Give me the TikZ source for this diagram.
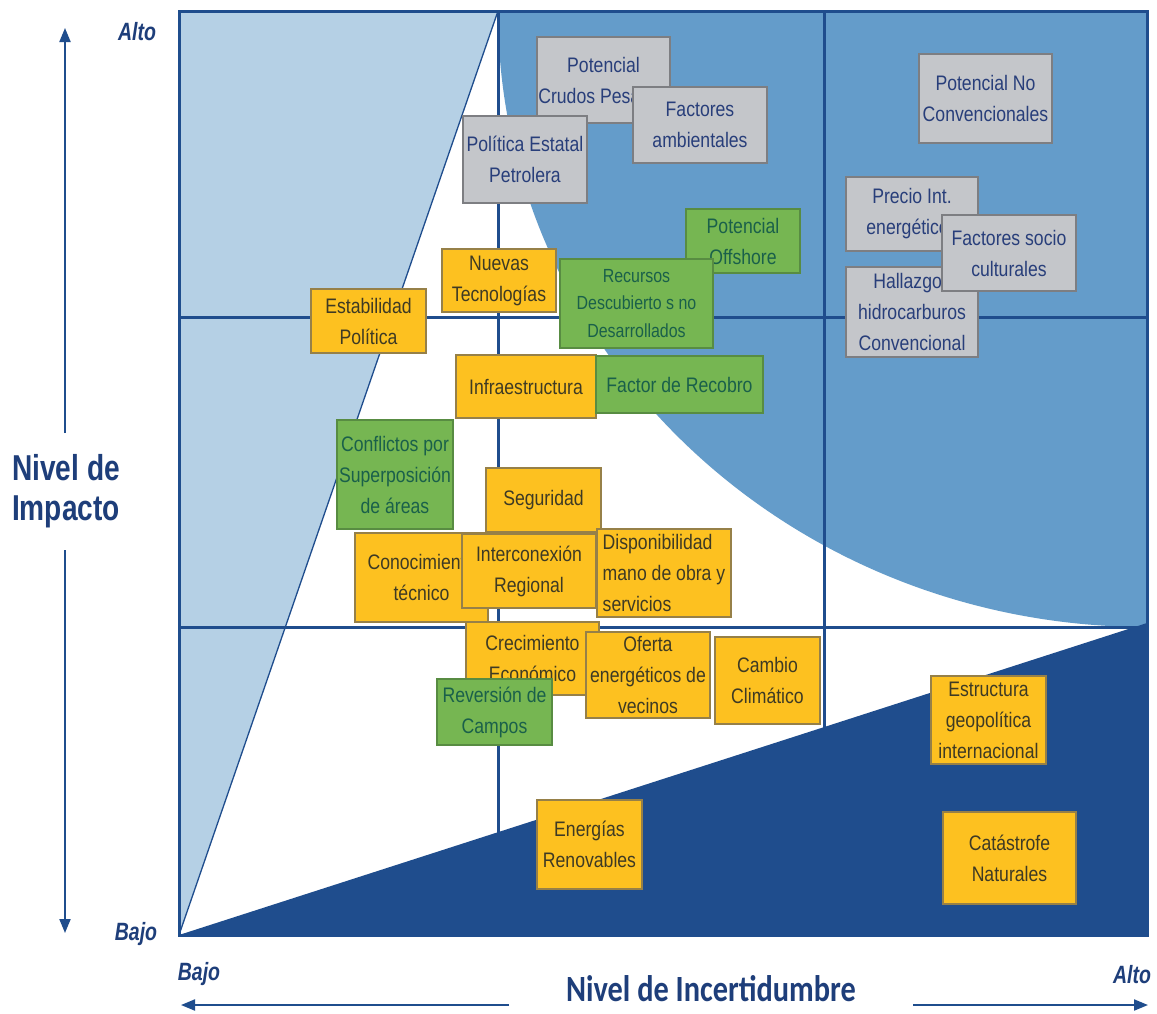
\documentclass[tikz,border=0pt]{standalone}
\usepackage{fontspec}
\setmainfont{Liberation Sans}
\newfontfamily\boxfont[FakeStretch=0.84]{Liberation Sans}
\newfontfamily\axisfont[FakeStretch=0.82]{Carlito}
\newfontfamily\labfont[FakeStretch=0.78]{Liberation Sans}
\usetikzlibrary{arrows.meta}

\definecolor{navy}{RGB}{31,77,141}
\definecolor{lightblue}{RGB}{181,208,229}
\definecolor{midblue}{RGB}{100,156,202}
\definecolor{axistext}{RGB}{30,62,122}
\definecolor{grayfill}{RGB}{196,198,202}
\definecolor{grayedge}{RGB}{125,126,130}
\definecolor{graytext}{RGB}{40,62,122}
\definecolor{greenfill}{RGB}{118,182,82}
\definecolor{greenedge}{RGB}{88,140,66}
\definecolor{greentext}{RGB}{26,96,74}
\definecolor{yellowfill}{RGB}{253,193,32}
\definecolor{yellowedge}{RGB}{150,128,72}
\definecolor{yellowtext}{RGB}{62,58,36}

% a factor box given by its corners (x1,y1) and (x2,y2)
\newcommand{\riskbox}[7]{%
  \pgfmathsetmacro{\rbW}{#5-#3}\pgfmathsetmacro{\rbH}{#6-#4}%
  \pgfmathsetmacro{\rbX}{(#3+#5)/2}\pgfmathsetmacro{\rbY}{(#4+#6)/2}%
  \node[#1, minimum width=\rbW pt, minimum height=\rbH pt] (#2) at (\rbX,\rbY) {#7};}

\begin{document}
\begin{tikzpicture}[x=1pt,y=-1pt,
  factor/.style={rectangle, draw, line width=1.5pt, inner sep=0pt, align=center,
    font=\boxfont\fontsize{21}{31}\selectfont},
  graybox/.style={factor, fill=grayfill, draw=grayedge, text=graytext},
  greenbox/.style={factor, fill=greenfill, draw=greenedge, text=greentext},
  yellowbox/.style={factor, fill=yellowfill, draw=yellowedge, text=yellowtext},
  gridline/.style={navy, line width=3pt},
  axisarrow/.style={navy, line width=2pt, -{Triangle[width=11pt,length=14pt]}},
  levellabel/.style={text=axistext, font=\labfont\bfseries\itshape\fontsize{25}{28}\selectfont, inner sep=0pt}]

\useasboundingbox (0,0) rectangle (1157,1013);
\fill[white] (0,0) rectangle (1157,1013);

% plot area corners
\coordinate (tl) at (179,11);
\coordinate (tr) at (1147,11);
\coordinate (bl) at (179,935);
\coordinate (br) at (1147,935);
\coordinate (tm) at (498,11);
\coordinate (rm) at (1147,623);

% zones
\fill[lightblue] (tl) -- (tm) -- (bl) -- cycle;
\begin{scope}
  \clip (tl) rectangle (br);
  \fill[midblue] (tr) ellipse [x radius=649pt, y radius=616pt];
\end{scope}
\fill[navy] (bl) -- (rm) -- (br) -- cycle;
\draw[navy, line width=1.3pt] (tm) -- (bl);

% quadrant grid
\draw[gridline] (498,11) -- (498,935);
\draw[gridline] (824,11) -- (824,935);
\draw[gridline] (179,317) -- (1147,317);
\draw[gridline] (179,627) -- (1147,627);
\draw[navy, line width=3pt] (tl) rectangle (br);

% factors
\riskbox{graybox}{pcp}{537}{37}{670}{123}{Potencial\\Crudos Pesados}
\riskbox{graybox}{pep}{463}{116}{587}{203}{Política Estatal\\Petrolera}
\riskbox{graybox}{fam}{633}{87}{767}{163}{Factores\\ambientales}
\riskbox{graybox}{pnc}{919}{54}{1052}{143}{Potencial No\\Convencionales}
\riskbox{graybox}{pie}{846}{177}{978}{251}{Precio Int.\\energéticos}
\riskbox{graybox}{hhc}{846}{267}{978}{357}{Hallazgos\\hidrocarburos\\Convencional}
\riskbox{graybox}{fsc}{942}{215}{1076}{291}{Factores socio\\culturales}

\riskbox{greenbox}{pof}{686}{209}{800}{273}{Potencial\\Offshore}
\riskbox{greenbox, font=\boxfont\fontsize{19}{27.5}\selectfont}{rdd}{560}{259}{713}{348}{Recursos\\Descubierto s no\\Desarrollados}
\riskbox{yellowbox}{ntc}{442}{249}{556}{312}{Nuevas\\Tecnologías}
\riskbox{yellowbox}{epo}{311}{289}{426}{353}{Estabilidad\\Política}
\riskbox{yellowbox}{inf}{456}{355}{596}{418}{Infraestructura}
\riskbox{greenbox}{fre}{596}{356}{763}{413}{Factor de Recobro}
\riskbox{greenbox}{csa}{337}{420}{453}{529}{Conflictos por\\Superposición\\de áreas}
\riskbox{yellowbox}{seg}{486}{468}{601}{532}{Seguridad}
\riskbox{yellowbox}{cte}{355}{533}{488}{622}{Conocimiento\\técnico}
\riskbox{yellowbox}{ire}{462}{534}{596}{608}{Interconexión\\Regional}
\riskbox{yellowbox, align=left}{dmo}{597}{529}{731}{617}{Disponibilidad\\mano de obra y\\servicios}
\riskbox{yellowbox}{cec}{466}{622}{599}{695}{Crecimiento\\Económico}
\riskbox{yellowbox}{oev}{586}{632}{710}{718}{Oferta\\energéticos de\\vecinos}
\riskbox{greenbox}{rca}{437}{679}{552}{745}{Reversión de\\Campos}
\riskbox{yellowbox}{ccl}{715}{637}{820}{724}{Cambio\\Climático}
\riskbox{yellowbox}{egi}{931}{676}{1046}{764}{Estructura\\geopolítica\\internacional}
\riskbox{yellowbox}{ere}{537}{800}{642}{889}{Energías\\Renovables}
\riskbox{yellowbox}{cna}{943}{812}{1076}{904}{Catástrofe\\Naturales}

% vertical axis
\node[text=axistext, align=center, inner sep=0pt,
  font=\labfont\bfseries\fontsize{36}{40}\selectfont] (impact) at (66,491) {Nivel de\\Impacto};
\coordinate (vup) at (65,433);
\coordinate (vtop) at (65,28);
\coordinate (vdown) at (65,550);
\coordinate (vbot) at (65,933);
\draw[axisarrow] (vup) -- (vtop);
\draw[axisarrow] (vdown) -- (vbot);
\node[levellabel] (ytop) at (137,32) {Alto};
\node[levellabel] (ybot) at (136,934) {Bajo};

% horizontal axis
\node[text=axistext, inner sep=0pt, anchor=base,
  font=\axisfont\bfseries\fontsize{37}{40}\selectfont] (uncert) at (711,1001) {Nivel de Incertidumbre};
\coordinate (hleft) at (509,1005);
\coordinate (hlefttip) at (181,1005);
\coordinate (hright) at (913,1005);
\coordinate (hrighttip) at (1148,1005);
\draw[axisarrow] (hleft) -- (hlefttip);
\draw[axisarrow] (hright) -- (hrighttip);
\node[levellabel] (xlow) at (199,974) {Bajo};
\node[levellabel] (xhigh) at (1132,975) {Alto};
\end{tikzpicture}
\end{document}
